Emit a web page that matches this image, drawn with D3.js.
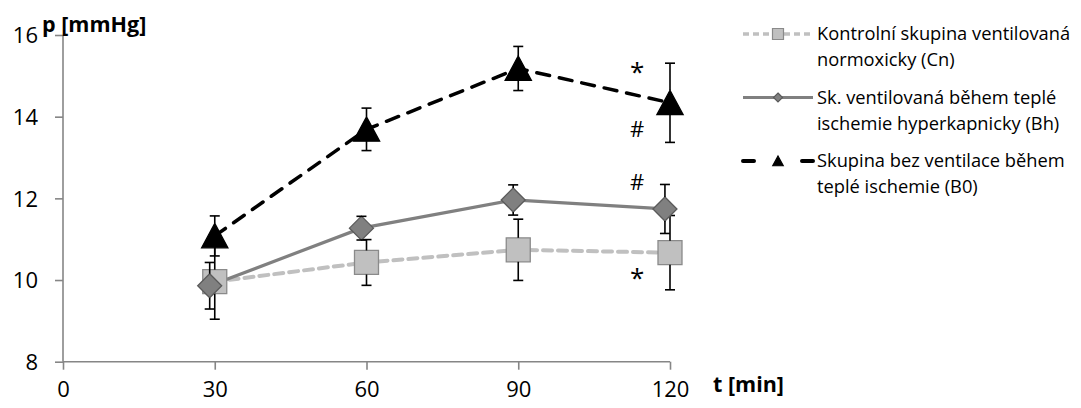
<!DOCTYPE html>
<html><head><meta charset="utf-8">
<script src="https://cdn.jsdelivr.net/npm/d3@7"></script>
<style>body{margin:0;background:#fff}svg{display:block}text{font-family:"Open Sans",Lato,sans-serif}</style>
</head><body><svg id="c" width="1081" height="408"></svg>
<script>
const times = [30, 60, 90, 120];
const timesBh = [29, 59, 89, 119];
const cnVals = [9.96, 10.43, 10.74, 10.67];
const cnErr = [0.92, 0.56, 0.75, 0.91];
const bhVals = [9.86, 11.27, 11.96, 11.74];
const bhErr = [0.57, 0.29, 0.37, 0.60];
const b0Vals = [11.08, 13.69, 15.18, 14.34];
const b0Err = [0.49, 0.52, 0.54, 0.97];
const xTicks = [0, 30, 60, 90, 120];
const yTicks = [8, 10, 12, 14, 16];
const legendLines = [
  ["Kontrolní skupina ventilovaná", "normoxicky (Cn)"],
  ["Sk. ventilovaná během teplé", "ischemie hyperkapnicky (Bh)"],
  ["Skupina bez ventilace během", "teplé ischemie (B0)"]
];
const annotations = [
  {t: 113.5, v: 14.88, s: "*"},
  {t: 113.5, v: 13.51, s: "#"},
  {t: 113.5, v: 12.20, s: "#"},
  {t: 113.5, v: 9.82, s: "*"}
];

const svg = d3.select("#c");
const x = d3.scaleLinear().domain([0, 120]).range([63, 670]);
const y = d3.scaleLinear().domain([8, 16]).range([361.7, 35]);

const axisColor = "#868686";
const yAxis = svg.append("g").attr("transform", "translate(63,0)")
  .call(d3.axisLeft(y).tickValues(yTicks).tickSize(8).tickPadding(17).tickFormat(d3.format("d")));
yAxis.select(".domain").attr("stroke", axisColor).attr("stroke-width", 1.6).attr("d", "M0,35V361.7");
yAxis.selectAll(".tick line").attr("stroke", axisColor).attr("stroke-width", 1.6);
yAxis.selectAll(".tick text").attr("font-size", 22).attr("fill", "#000").attr("dy", "0.36em");
const xAxis = svg.append("g").attr("transform", "translate(0,361.7)")
  .call(d3.axisBottom(x).tickValues(xTicks).tickSize(8).tickPadding(12).tickFormat(d3.format("d")));
xAxis.select(".domain").attr("stroke", axisColor).attr("stroke-width", 1.6).attr("d", "M63,0H670");
xAxis.selectAll(".tick line").attr("stroke", axisColor).attr("stroke-width", 1.6);
xAxis.selectAll(".tick text").attr("font-size", 22).attr("fill", "#000");

svg.append("text").attr("x", 42).attr("y", 32).attr("font-weight", "bold").attr("font-size", 21.5).text("p [mmHg]");
svg.append("text").attr("x", 713).attr("y", 392).attr("font-weight", "bold").attr("font-size", 21.5).text("t [min]");

const series = [
  {ts: times, vals: cnVals, err: cnErr, stroke: "#c0c0c0", width: 4, dash: "9,6", marker: "square", fill: "#c0c0c0", mstroke: "#8a8a8a"},
  {ts: timesBh, vals: bhVals, err: bhErr, stroke: "#808080", width: 3.2, dash: null, marker: "diamond", fill: "#808080", mstroke: "#5a5a5a"},
  {ts: times, vals: b0Vals, err: b0Err, stroke: "#000", width: 3.5, dash: "13,10", marker: "triangle", fill: "#000", mstroke: "#000"}
];

function markerPath(type, s) {
  if (type === "square") return `M${-s},${-s}H${s}V${s}H${-s}Z`;
  if (type === "diamond") return `M0,${-s}L${s},0L0,${s}L${-s},0Z`;
  return `M0,${-s}L${s*1.05},${s*0.95}H${-s*1.05}Z`;
}
const msize = {square: 12, diamond: 12, triangle: 12.5};

series.forEach(sr => {
  const pts = sr.ts.map((t, i) => ({t, v: sr.vals[i], e: sr.err[i]}));
  const line = d3.line().x(d => x(d.t)).y(d => y(d.v));
  svg.append("path").datum(pts).attr("d", line).attr("fill", "none")
    .attr("stroke", sr.stroke).attr("stroke-width", sr.width)
    .attr("stroke-dasharray", sr.dash).attr("stroke-linecap", sr.dash ? "round" : "butt");
});
series.forEach(sr => {
  const pts = sr.ts.map((t, i) => ({t, v: sr.vals[i], e: sr.err[i]}));
  const g = svg.append("g");
  g.selectAll("path.m").data(pts).join("path").attr("class", "m")
    .attr("transform", d => `translate(${x(d.t)},${y(d.v)})`)
    .attr("d", markerPath(sr.marker, msize[sr.marker]))
    .attr("fill", sr.fill).attr("stroke", sr.mstroke).attr("stroke-width", 1.3);
  const eb = g.selectAll("g.e").data(pts).join("g").attr("class", "e").attr("stroke", "#000").attr("stroke-width", 1.6);
  eb.append("line").attr("x1", d => x(d.t)).attr("x2", d => x(d.t))
    .attr("y1", d => y(d.v + d.e)).attr("y2", d => y(d.v) - msize[sr.marker]);
  eb.append("line").attr("x1", d => x(d.t)).attr("x2", d => x(d.t))
    .attr("y1", d => y(d.v) + msize[sr.marker] - (sr.marker === "triangle" ? 1 : 0)).attr("y2", d => y(d.v - d.e));
  eb.append("line").attr("x1", d => x(d.t) - 5).attr("x2", d => x(d.t) + 5)
    .attr("y1", d => y(d.v + d.e)).attr("y2", d => y(d.v + d.e));
  eb.append("line").attr("x1", d => x(d.t) - 5).attr("x2", d => x(d.t) + 5)
    .attr("y1", d => y(d.v - d.e)).attr("y2", d => y(d.v - d.e));
});

svg.selectAll("text.ann").data(annotations).join("text").attr("class", "ann")
  .attr("x", d => x(d.t)).attr("y", d => y(d.v)).attr("text-anchor", "middle")
  .attr("font-size", d => d.s === "*" ? 26 : 22).text(d => d.s);

const leg = svg.append("g");
const legRowY = [34, 97.5, 161];
series.forEach((sr, i) => {
  const gy = legRowY[i];
  const lg = leg.append("g");
  if (sr.marker === "square") {
    lg.append("path").attr("d", `M743,${gy}H771M784,${gy}H813`).attr("stroke", sr.stroke).attr("stroke-width", 3.5).attr("stroke-dasharray", "6,4");
  } else if (sr.marker === "diamond") {
    lg.append("path").attr("d", `M743,${gy}H813`).attr("stroke", sr.stroke).attr("stroke-width", 3);
  } else {
    lg.append("path").attr("d", `M743,${gy}H754M802,${gy}H813`).attr("stroke", sr.stroke).attr("stroke-width", 4).attr("stroke-linecap", "round");
  }
  const ms = sr.marker === "square" ? 5.5 : (sr.marker === "diamond" ? 4.5 : 5);
  lg.append("path").attr("transform", `translate(778,${gy})`).attr("d", markerPath(sr.marker, ms))
    .attr("fill", sr.fill).attr("stroke", sr.mstroke).attr("stroke-width", 1.2);
  legendLines[i].forEach((ln, j) => {
    lg.append("text").attr("x", 817).attr("y", gy + 6 + j * 26).attr("font-size", 18.3).text(ln);
  });
});
</script></body></html>
